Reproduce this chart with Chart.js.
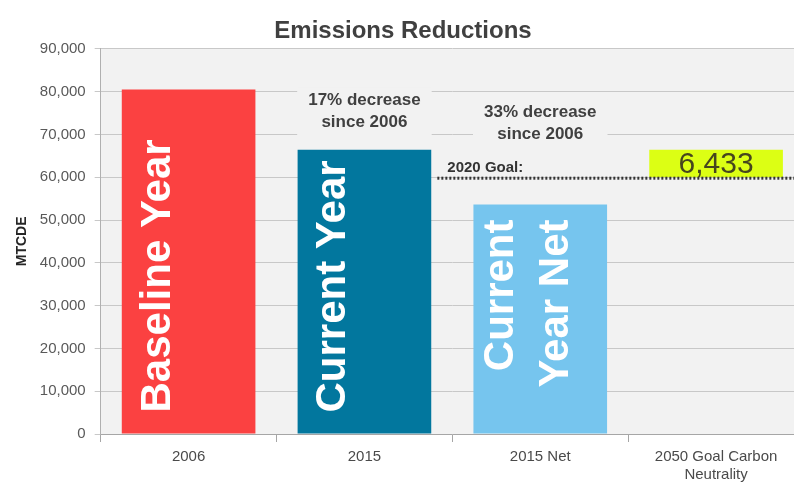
<!DOCTYPE html>
<html>
<head>
<meta charset="utf-8">
<script src="https://cdn.jsdelivr.net/npm/chart.js@4/dist/chart.umd.min.js"></script>
<style>
  html, body { margin: 0; padding: 0; background: #fff; overflow: hidden; }
  #wrap { width: 804px; height: 490px; }
</style>
</head>
<body>
<div id="wrap"><canvas id="chartEmisi"></canvas></div>
<script>
const categories = ['2006', '2015', '2015 Net', ['2050 Goal Carbon', 'Neutrality']];
const emissions = [80500, 66400, 53600];
const goalBox = [60000, 66433];
const barColors = ['#fb4141', '#02779e', '#76c5ee', '#dcff14'];
const barLabels = [['Baseline Year'], ['Current Year'], ['Current', 'Year Net'], []];
const goalValue = 60000;
const goalLabel = '6,433';
const notes = [
  { cat: 1, value: 75300, lines: ['17% decrease', 'since 2006'] },
  { cat: 2, value: 72600, lines: ['33% decrease', 'since 2006'] }
];

const FONT = '"Liberation Sans", Arial, sans-serif';

// build floating bars: real bars start at 0, the goal box floats
const barData = emissions.map(v => [0, v]);
barData.push(goalBox);

const plotBg = {
  id: 'plotBg',
  beforeDraw(chart) {
    const { ctx, chartArea: a } = chart;
    ctx.save();
    ctx.fillStyle = '#f2f2f2';
    ctx.fillRect(a.left, a.top, a.right - a.left, a.bottom - a.top);
    ctx.restore();
  }
};

const extras = {
  id: 'extras',
  afterDatasetsDraw(chart) {
    const { ctx, scales: { x, y } } = chart;
    const meta = chart.getDatasetMeta(0);
    ctx.save();

    // text boxes for the decrease notes
    ctx.font = 'bold 17px ' + FONT;
    ctx.textAlign = 'center';
    ctx.textBaseline = 'middle';
    notes.forEach(n => {
      const cx = x.getPixelForValue(n.cat);
      const cy = y.getPixelForValue(n.value);
      const w = ctx.measureText(n.lines[0]).width + 22;
      ctx.fillStyle = '#f2f2f2';
      ctx.fillRect(cx - w / 2, cy - 24, w, 48);
      ctx.fillStyle = '#404040';
      ctx.fillText(n.lines[0], cx, cy - 11);
      ctx.fillText(n.lines[1], cx, cy + 11);
    });

    // goal line
    const gy = y.getPixelForValue(goalValue);
    const gx0 = (x.getPixelForValue(1) + x.getPixelForValue(2)) / 2 - 15;
    ctx.strokeStyle = '#333';
    ctx.lineWidth = 3;
    ctx.setLineDash([2, 2]);
    ctx.beginPath();
    ctx.moveTo(gx0, gy + 1);
    ctx.lineTo(chart.chartArea.right, gy + 1);
    ctx.stroke();
    ctx.setLineDash([]);
    ctx.font = 'bold 15px ' + FONT;
    ctx.textAlign = 'left';
    ctx.textBaseline = 'alphabetic';
    ctx.fillStyle = '#333';
    ctx.fillText('2020 Goal:', gx0 + 10, gy - 5);

    // labels inside bars
    ctx.font = 'bold 42px ' + FONT;
    ctx.fillStyle = '#ffffff';
    meta.data.forEach((bar, i) => {
      const lines = barLabels[i];
      if (!lines.length) return;
      ctx.save();
      ctx.translate(bar.x, bar.base);
      ctx.rotate(-Math.PI / 2);
      if (lines.length === 1) {
        ctx.textAlign = 'left';
        ctx.fillText(lines[0], 21, -19);
      } else {
        ctx.textAlign = 'right';
        ctx.fillText(lines[0], 214, -27);
        ctx.fillText(lines[1], 214, 28);
      }
      ctx.restore();
    });

    // value in goal box
    const gb = meta.data[3];
    ctx.font = '30px ' + FONT;
    ctx.fillStyle = '#46461e';
    ctx.textAlign = 'center';
    ctx.textBaseline = 'middle';
    ctx.fillText(goalLabel, gb.x, (gb.y + gb.base) / 2 + 1);
    ctx.restore();
  }
};

new Chart(document.getElementById('chartEmisi'), {
  type: 'bar',
  data: {
    labels: categories,
    datasets: [{
      data: barData,
      backgroundColor: barColors,
      borderWidth: 0,
      categoryPercentage: 1,
      barPercentage: 0.76
    }]
  },
  options: {
    responsive: true,
    maintainAspectRatio: false,
    animation: false,
    layout: { padding: { left: 2, right: 0, top: 0, bottom: 0 } },
    scales: {
      x: {
        offset: true,
        grid: { display: true, drawOnChartArea: false, offset: true, tickLength: 8, color: '#a6a6a6' },
        border: { color: '#a6a6a6' },
        ticks: { color: '#4a4a4a', font: { family: FONT, size: 15 }, padding: 6 }
      },
      y: {
        min: 0,
        max: 90000,
        ticks: {
          stepSize: 10000,
          color: '#595959',
          font: { family: FONT, size: 15 },
          padding: 9,
          callback: v => v.toLocaleString('en-US')
        },
        grid: { color: '#c8c8c8', tickLength: 6 },
        border: { color: '#b0b0b0' },
        title: {
          display: true,
          text: 'MTCDE',
          color: '#262626',
          font: { family: FONT, size: 14, weight: 'bold' },
          padding: { top: 12, bottom: 0 }
        }
      }
    },
    plugins: {
      legend: { display: false },
      tooltip: { enabled: false },
      title: {
        display: true,
        text: 'Emissions Reductions',
        color: '#404040',
        font: { family: FONT, size: 24, weight: 'bold' },
        padding: { top: 17, bottom: 3 }
      }
    }
  },
  plugins: [plotBg, extras]
});
</script>
</body>
</html>
